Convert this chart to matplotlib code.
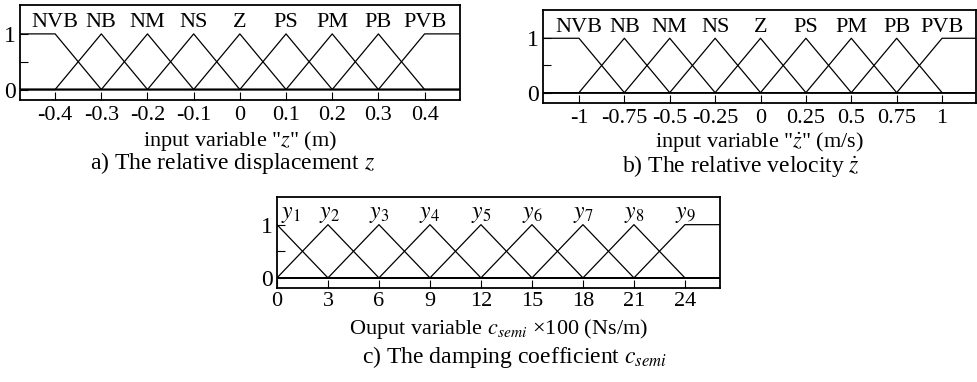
import numpy as np
from matplotlib import pyplot as plt

plt.rcParams['font.family'] = ['Liberation Serif', 'DejaVu Serif']
plt.rcParams['mathtext.fontset'] = 'stix'

# data: membership function centers and labels
z_centers = [-0.4, -0.3, -0.2, -0.1, 0, 0.1, 0.2, 0.3, 0.4]
zd_centers = [-1, -0.75, -0.5, -0.25, 0, 0.25, 0.5, 0.75, 1]
c_centers = [0, 3, 6, 9, 12, 15, 18, 21, 24]
in_labels = ['NVB', 'NB', 'NM', 'NS', 'Z', 'PS', 'PM', 'PB', 'PVB']
out_labels = ['$y_{%d}$' % i for i in range(1, 10)]

z_ticklabels = ['-0.4', '-0.3', '-0.2', '-0.1', '0', '0.1', '0.2', '0.3', '0.4']
zd_ticklabels = ['-1', '-0.75', '-0.5', '-0.25', '0', '0.25', '0.5', '0.75', '1']
c_ticklabels = ['0', '3', '6', '9', '12', '15', '18', '21', '24']


def mf_lines(ax, centers, xlim):
    step = centers[1] - centers[0]
    n = len(centers)
    for i, c in enumerate(centers):
        if i == 0:
            xs = [xlim[0], c, c + step, xlim[1]]
            ys = [1, 1, 0, 0]
        elif i == n - 1:
            xs = [xlim[0], c - step, c, xlim[1]]
            ys = [0, 0, 1, 1]
        else:
            xs = [xlim[0], c - step, c, c + step, xlim[1]]
            ys = [0, 0, 1, 0, 0]
        ax.plot(xs, ys, color='black', lw=0.9)


def style(ax, centers, ticklabels, xlim, fs=16, xpad=3):
    ax.set_xlim(xlim)
    ax.set_ylim(-0.19, 1.52)
    ax.set_xticks(centers)
    ax.set_xticklabels(ticklabels, fontsize=fs)
    ax.set_yticks([0, 0.5, 1])
    ax.set_yticklabels(['0', '', '1'], fontsize=fs + 1)
    ax.tick_params(direction='in', length=6, width=0.8)
    ax.tick_params(axis='x', pad=xpad)
    ax.tick_params(axis='y', pad=3)
    for s in ax.spines.values():
        s.set_linewidth(1.3)


fig = plt.figure(figsize=(9.77, 3.82), dpi=100)

# a) relative displacement
xa = (-0.476, 0.476)
ax1 = fig.add_axes([0.0205, 0.738, 0.450, 0.249])
mf_lines(ax1, z_centers, xa)
style(ax1, z_centers, z_ticklabels, xa, xpad=4)
for c, lab in zip(z_centers, in_labels):
    ax1.text(c, 1.12, lab, ha='center', va='baseline', fontsize=16)
ax1.set_xlabel('input variable "$z$" (m)', fontsize=16, labelpad=3)

# b) relative velocity
xb = (-1.198, 1.187)
ax2 = fig.add_axes([0.5558, 0.7304, 0.4432, 0.2435])
mf_lines(ax2, zd_centers, xb)
style(ax2, zd_centers, zd_ticklabels, xb, xpad=4)
for c, lab in zip(zd_centers, in_labels):
    ax2.text(c, 1.11, lab, ha='center', va='baseline', fontsize=16)
ax2.set_xlabel('input variable "$\\dot{z}$" (m/s)', fontsize=16, labelpad=2)

# c) damping coefficient
xc = (0, 26.06)
ax3 = fig.add_axes([0.2835, 0.2461, 0.4534, 0.2382])
mf_lines(ax3, c_centers, xc)
style(ax3, c_centers, c_ticklabels, xc, xpad=3)
offs = [0.8, 0.1] + [0] * 7
for c, lab, o in zip(c_centers, out_labels, offs):
    ax3.text(c + o, 1.12, lab, ha='center', va='baseline', fontsize=17)
ax3.set_xlabel('Ouput variable $c_{semi}$ \u00d7100 (Ns/m)', fontsize=16, labelpad=4)

fig.text(0.238, 0.572, 'a) The relative displacement $z$', ha='center', va='center', fontsize=17)
fig.text(0.758, 0.565, 'b) The relative velocity $\\dot{z}$', ha='center', va='center', fontsize=17)
fig.text(0.527, 0.065, 'c) The damping coefficient $c_{semi}$', ha='center', va='center', fontsize=17)

plt.savefig('out.png', dpi=100)
